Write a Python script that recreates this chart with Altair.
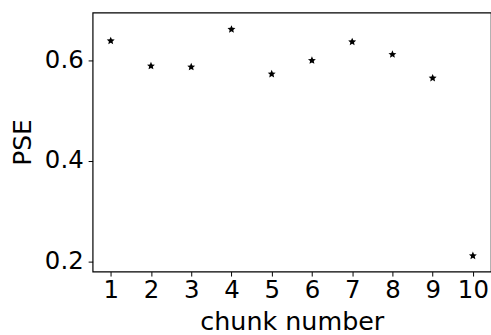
import altair as alt
import pandas as pd

chunks = [1, 2, 3, 4, 5, 6, 7, 8, 9, 10]
pse = [0.639, 0.589, 0.587, 0.662, 0.573, 0.600, 0.637, 0.612, 0.565, 0.211]
x_ticks = [1, 2, 3, 4, 5, 6, 7, 8, 9, 10]
y_ticks = [0.2, 0.4, 0.6]

df = pd.DataFrame({"chunk": chunks, "pse": pse})

STAR = ("M0,-1 L0.270,-0.372 L0.951,-0.309 L0.437,0.142 L0.588,0.809 "
        "L0,0.46 L-0.588,0.809 L-0.437,0.142 L-0.951,-0.309 L-0.270,-0.372 Z")

chart = alt.Chart(df).mark_point(
    shape=STAR, filled=True, color="black", size=70, opacity=1
).encode(
    x=alt.X("chunk:Q", scale=alt.Scale(domain=[0.55, 10.45], nice=False, zero=False),
            axis=alt.Axis(values=x_ticks, title="chunk number", grid=False,
                          labelFontSize=24.5, titleFontSize=25.5, tickSize=4.5,
                          labelPadding=3, titlePadding=7, titleFontWeight="normal",
                          labelFont="DejaVu Sans", titleFont="DejaVu Sans",
                          domain=False, tickColor="black", labelColor="black",
                          titleColor="black")),
    y=alt.Y("pse:Q", scale=alt.Scale(domain=[0.1795, 0.6953], nice=False, zero=False),
            axis=alt.Axis(values=y_ticks, title="PSE", grid=False, format=".1f",
                          labelFontSize=24.5, titleFontSize=25, tickSize=4.5,
                          labelPadding=5, titlePadding=9, titleFontWeight="normal",
                          labelFont="DejaVu Sans", titleFont="DejaVu Sans",
                          domain=False, tickColor="black", labelColor="black",
                          titleColor="black")),
).properties(
    width=400, height=260,
    autosize=alt.AutoSizeParams(type="none"),
    padding={"left": 93, "top": 12, "right": 0, "bottom": 63},
    background="white",
).configure_view(stroke="black", strokeWidth=1.2)

chart.save("out.html", embed_options={"renderer": "svg", "actions": False})
